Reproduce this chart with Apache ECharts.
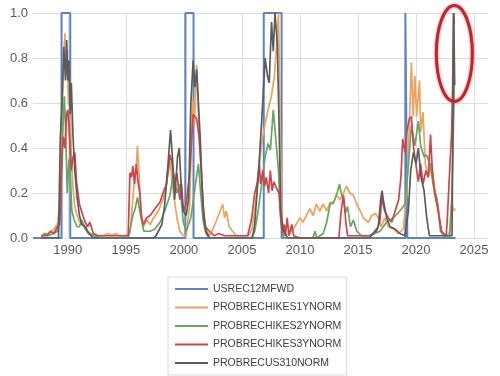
<!DOCTYPE html>
<html>
<head>
<meta charset="utf-8">
<script src="https://cdn.jsdelivr.net/npm/echarts@6/dist/echarts.min.js"></script>
<style>
  html, body { margin: 0; padding: 0; background: #fff; }
  #main { width: 500px; height: 376px; }
</style>
</head>
<body>
<div id="main"></div>
<script>
// series names as in the legend
const names = ['USREC12MFWD', 'PROBRECHIKES1YNORM', 'PROBRECHIKES2YNORM', 'PROBRECHIKES3YNORM', 'PROBRECUS310NORM'];
const yearTicks = [1990, 1995, 2000, 2005, 2010, 2015, 2020, 2025];

// recession flag (12 months forward): start/end of each period
const recStart = 1987.0;
const recEnd = 2023.4;
const recPeriods = [[1989.46, 1990.21], [2000.13, 2000.83], [2006.88, 2008.42], [2019.08, 2019.25]];

// [year, value]
const hikes1y = [[1987.7,0.01],[1988.0,0.02],[1988.4,0.02],[1988.8,0.04],[1989.1,0.06],[1989.3,0.15],[1989.5,0.55],[1989.65,0.8],[1989.75,0.91],[1989.85,0.72],[1989.95,0.84],[1990.05,0.6],[1990.2,0.58],[1990.3,0.36],[1990.45,0.22],[1990.6,0.14],[1990.8,0.1],[1991.0,0.07],[1991.2,0.08],[1991.4,0.05],[1991.7,0.03],[1992.0,0.02],[1992.5,0.01],[1993.0,0.01],[1993.5,0.02],[1993.8,0.01],[1994.1,0.02],[1994.5,0.01],[1995.0,0.01],[1995.35,0.02],[1995.6,0.17],[1995.75,0.27],[1995.9,0.32],[1996.0,0.41],[1996.15,0.27],[1996.3,0.12],[1996.5,0.05],[1996.8,0.08],[1997.1,0.06],[1997.4,0.09],[1997.8,0.12],[1998.2,0.17],[1998.5,0.24],[1998.8,0.34],[1999.1,0.2],[1999.4,0.09],[1999.65,0.03],[1999.95,0.01],[2000.2,0.01],[2000.5,0.15],[2000.75,0.62],[2000.9,0.5],[2001.1,0.77],[2001.25,0.55],[2001.4,0.4],[2001.55,0.22],[2001.7,0.1],[2001.9,0.04],[2002.2,0.01],[2002.6,0.05],[2002.9,0.09],[2003.2,0.13],[2003.35,0.15],[2003.5,0.09],[2003.65,0.12],[2003.9,0.05],[2004.2,0.03],[2004.5,0.01],[2005.0,0.01],[2005.6,0.01],[2005.85,0.04],[2006.1,0.12],[2006.4,0.27],[2006.7,0.42],[2007.0,0.51],[2007.3,0.58],[2007.5,0.62],[2007.8,0.72],[2008.0,0.86],[2008.15,1.0],[2008.3,0.5],[2008.45,0.08],[2008.6,0.01],[2009.1,0.02],[2009.55,0.05],[2010.0,0.09],[2010.25,0.07],[2010.55,0.1],[2010.85,0.13],[2011.15,0.1],[2011.4,0.15],[2011.7,0.12],[2012.0,0.15],[2012.3,0.12],[2012.6,0.16],[2012.85,0.15],[2013.15,0.19],[2013.45,0.17],[2013.75,0.2],[2014.0,0.23],[2014.3,0.2],[2014.6,0.19],[2014.9,0.15],[2015.2,0.12],[2015.45,0.09],[2015.9,0.07],[2016.2,0.1],[2016.5,0.11],[2016.75,0.09],[2017.0,0.05],[2017.3,0.09],[2017.6,0.05],[2018.05,0.04],[2018.5,0.02],[2018.9,0.04],[2019.2,0.2],[2019.4,0.47],[2019.6,0.78],[2019.75,0.54],[2019.9,0.72],[2020.05,0.54],[2020.3,0.7],[2020.4,0.47],[2020.6,0.56],[2020.8,0.33],[2021.05,0.27],[2021.35,0.33],[2021.65,0.2],[2021.9,0.15],[2022.1,0.05],[2022.3,0.01],[2022.7,0.01],[2022.9,0.03],[2023.07,0.17],[2023.2,0.12],[2023.4,0.13]];

const hikes2y = [[1987.7,0.0],[1988.0,0.02],[1988.3,0.01],[1988.8,0.02],[1989.1,0.03],[1989.35,0.12],[1989.55,0.45],[1989.7,0.63],[1989.8,0.5],[1989.95,0.2],[1990.1,0.35],[1990.2,0.28],[1990.35,0.12],[1990.55,0.08],[1990.8,0.05],[1991.0,0.05],[1991.2,0.08],[1991.5,0.04],[1991.8,0.02],[1992.2,0.01],[1993.0,0.0],[1995.2,0.0],[1995.45,0.06],[1995.6,0.1],[1995.8,0.13],[1996.0,0.18],[1996.2,0.12],[1996.35,0.08],[1996.55,0.03],[1997.1,0.03],[1997.5,0.04],[1997.95,0.07],[1998.35,0.12],[1998.8,0.19],[1999.1,0.29],[1999.4,0.2],[1999.65,0.24],[1999.95,0.07],[2000.2,0.03],[2000.6,0.09],[2001.0,0.24],[2001.25,0.33],[2001.45,0.2],[2001.65,0.08],[2001.9,0.02],[2002.2,0.0],[2005.8,0.0],[2006.1,0.03],[2006.4,0.12],[2006.7,0.24],[2007.0,0.36],[2007.25,0.42],[2007.45,0.39],[2007.7,0.57],[2007.9,0.45],[2008.15,0.3],[2008.3,0.12],[2008.45,0.03],[2008.6,0.0],[2011.1,0.0],[2011.3,0.03],[2011.45,0.0],[2012.0,0.02],[2012.3,0.07],[2012.6,0.15],[2012.9,0.16],[2013.2,0.2],[2013.4,0.24],[2013.55,0.2],[2013.75,0.17],[2013.9,0.11],[2014.1,0.14],[2014.35,0.05],[2014.6,0.08],[2014.9,0.03],[2015.3,0.01],[2016.0,0.01],[2016.9,0.03],[2017.45,0.07],[2018.05,0.09],[2018.6,0.12],[2019.05,0.15],[2019.35,0.33],[2019.6,0.5],[2019.9,0.41],[2020.2,0.52],[2020.4,0.41],[2020.7,0.36],[2020.9,0.37],[2021.2,0.33],[2021.5,0.23],[2021.78,0.18],[2021.92,0.12],[2022.1,0.03],[2022.4,0.01],[2022.9,0.01],[2023.07,0.15],[2023.2,0.44],[2023.3,0.68]];

const hikes3y = [[1987.7,0.01],[1988.2,0.01],[1988.5,0.03],[1988.8,0.02],[1989.1,0.05],[1989.3,0.06],[1989.45,0.3],[1989.6,0.45],[1989.75,0.4],[1989.9,0.55],[1990.0,0.57],[1990.15,0.45],[1990.3,0.3],[1990.45,0.36],[1990.6,0.38],[1990.75,0.25],[1991.0,0.15],[1991.3,0.1],[1991.5,0.07],[1991.7,0.05],[1991.9,0.07],[1992.2,0.02],[1992.6,0.01],[1995.2,0.01],[1995.35,0.29],[1995.5,0.27],[1995.6,0.32],[1995.75,0.24],[1995.9,0.33],[1996.05,0.25],[1996.2,0.2],[1996.35,0.09],[1996.5,0.06],[1996.8,0.09],[1997.1,0.1],[1997.5,0.13],[1997.95,0.16],[1998.2,0.2],[1998.5,0.24],[1998.8,0.37],[1998.95,0.34],[1999.2,0.24],[1999.4,0.29],[1999.65,0.17],[1999.8,0.24],[1999.95,0.12],[2000.2,0.15],[2000.5,0.29],[2000.8,0.55],[2001.1,0.53],[2001.3,0.45],[2001.5,0.3],[2001.65,0.15],[2001.85,0.05],[2002.2,0.03],[2002.6,0.01],[2003.0,0.02],[2003.5,0.01],[2005.5,0.01],[2005.85,0.09],[2006.1,0.2],[2006.3,0.24],[2006.5,0.33],[2006.6,0.24],[2006.8,0.3],[2006.95,0.23],[2007.1,0.27],[2007.3,0.2],[2007.45,0.3],[2007.6,0.21],[2007.75,0.25],[2008.0,0.22],[2008.2,0.2],[2008.35,0.08],[2008.5,0.02],[2008.65,0.06],[2008.75,0.01],[2008.9,0.09],[2009.05,0.01],[2009.3,0.06],[2009.45,0.01],[2010.0,0.0],[2013.35,0.0],[2013.55,0.12],[2013.75,0.19],[2013.85,0.14],[2013.95,0.07],[2014.1,0.01],[2016.0,0.01],[2016.6,0.03],[2016.9,0.08],[2017.04,0.18],[2017.3,0.12],[2017.6,0.09],[2017.9,0.07],[2018.2,0.12],[2018.5,0.17],[2018.7,0.27],[2018.85,0.44],[2019.05,0.38],[2019.2,0.47],[2019.42,0.53],[2019.6,0.54],[2019.77,0.41],[2019.9,0.36],[2020.2,0.25],[2020.4,0.33],[2020.6,0.24],[2020.86,0.3],[2021.06,0.27],[2021.25,0.46],[2021.4,0.3],[2021.6,0.2],[2021.9,0.12],[2022.2,0.03],[2022.6,0.01],[2022.7,0.09],[2022.87,0.27],[2023.07,0.47],[2023.15,0.66],[2023.22,1.0],[2023.3,0.95]];

const us310 = [[1987.7,0.0],[1989.2,0.0],[1989.35,0.44],[1989.5,0.6],[1989.65,0.85],[1989.8,0.7],[1989.9,0.88],[1990.0,0.7],[1990.1,0.79],[1990.2,0.55],[1990.3,0.69],[1990.45,0.45],[1990.6,0.3],[1990.8,0.18],[1991.0,0.1],[1991.2,0.06],[1991.5,0.05],[1991.8,0.02],[1992.2,0.0],[1997.4,0.0],[1997.6,0.01],[1998.1,0.06],[1998.35,0.15],[1998.65,0.34],[1998.85,0.48],[1999.05,0.33],[1999.2,0.17],[1999.45,0.36],[1999.6,0.4],[1999.8,0.2],[1999.95,0.12],[2000.2,0.1],[2000.4,0.17],[2000.6,0.6],[2000.8,0.79],[2000.95,0.67],[2001.1,0.75],[2001.25,0.6],[2001.4,0.45],[2001.55,0.25],[2001.7,0.1],[2001.9,0.03],[2002.2,0.0],[2005.9,0.0],[2006.1,0.06],[2006.4,0.27],[2006.7,0.52],[2007.0,0.8],[2007.2,0.72],[2007.35,0.69],[2007.55,0.96],[2007.7,0.83],[2007.85,1.0],[2008.05,0.86],[2008.2,0.5],[2008.35,0.12],[2008.55,0.04],[2008.8,0.01],[2009.0,0.0],[2016.0,0.0],[2016.75,0.05],[2016.95,0.17],[2017.07,0.21],[2017.24,0.15],[2017.47,0.09],[2017.76,0.05],[2018.2,0.04],[2018.6,0.02],[2019.05,0.01],[2019.34,0.12],[2019.54,0.3],[2019.77,0.38],[2020.0,0.33],[2020.2,0.4],[2020.43,0.27],[2020.69,0.21],[2020.92,0.09],[2021.15,0.01],[2023.1,0.01],[2023.25,1.0],[2023.33,0.68]];

const colors = ['#5b82c6', '#eca35c', '#62a862', '#d2434a', '#5c5c5c'];

// step line for recession periods
let recData = [[recStart, 0]];
recPeriods.forEach(p => {
    recData.push([p[0], 0], [p[0], 1], [p[1], 1], [p[1], 0]);
});
recData.push([recEnd, 0]);

const allData = [recData, hikes1y, hikes2y, hikes3y, us310];

let chart = echarts.init(document.getElementById('main'), null, {renderer: 'canvas'});

const font = 'Liberation Sans';

const option = {
    animation: false,
    color: colors,
    textStyle: { fontFamily: font },
    grid: { left: 33, right: 12, top: 13, bottom: 138 },
    xAxis: {
        type: 'value',
        min: 1987,
        max: 2026.2,
        axisLine: { show: false },
        axisTick: { show: false, customValues: yearTicks },
        axisLabel: {
            customValues: yearTicks,
            color: '#595959',
            fontSize: 13,
            fontFamily: font,
            margin: 6,
            formatter: v => String(v)
        },
        splitLine: { show: true, lineStyle: { color: '#dedede', width: 1 } }
    },
    yAxis: {
        type: 'value',
        min: 0,
        max: 1,
        interval: 0.2,
        axisLine: { show: false },
        axisTick: { show: false },
        axisLabel: {
            color: '#595959',
            fontSize: 13,
            fontFamily: font,
            margin: 5,
            formatter: v => v.toFixed(1)
        },
        splitLine: { lineStyle: { color: '#dedede', width: 1 } }
    },
    legend: {
        orient: 'vertical',
        left: 168,
        top: 277,
        padding: [5, 5, 5, 7],
        borderColor: '#d9d9d9',
        borderWidth: 1,
        icon: 'rect',
        itemWidth: 33,
        itemHeight: 2,
        itemGap: 4.5,
        textStyle: { color: '#404040', fontSize: 10.5, fontFamily: font, lineHeight: 14 },
        data: names
    },
    series: names.map((n, i) => ({
        name: n,
        type: 'line',
        data: allData[i],
        showSymbol: false,
        symbol: 'none',
        lineStyle: { width: i === 0 ? 2 : 1.7, color: colors[i] },
        itemStyle: { color: colors[i] },
        z: 2 + i
    }))
};

chart.setOption(option);

// red oval round the latest spike, placed through the axes
const c = chart.convertToPixel({gridIndex: 0}, [2023.3, 0.82]);
chart.setOption({
    graphic: [{
        type: 'ellipse',
        shape: { cx: c[0], cy: c[1], rx: 18, ry: 48 },
        style: {
            fill: 'none',
            stroke: '#c3242c',
            lineWidth: 3,
            shadowBlur: 3,
            shadowColor: 'rgba(195,36,44,0.6)'
        },
        z: 100
    }]
});
</script>
</body>
</html>
